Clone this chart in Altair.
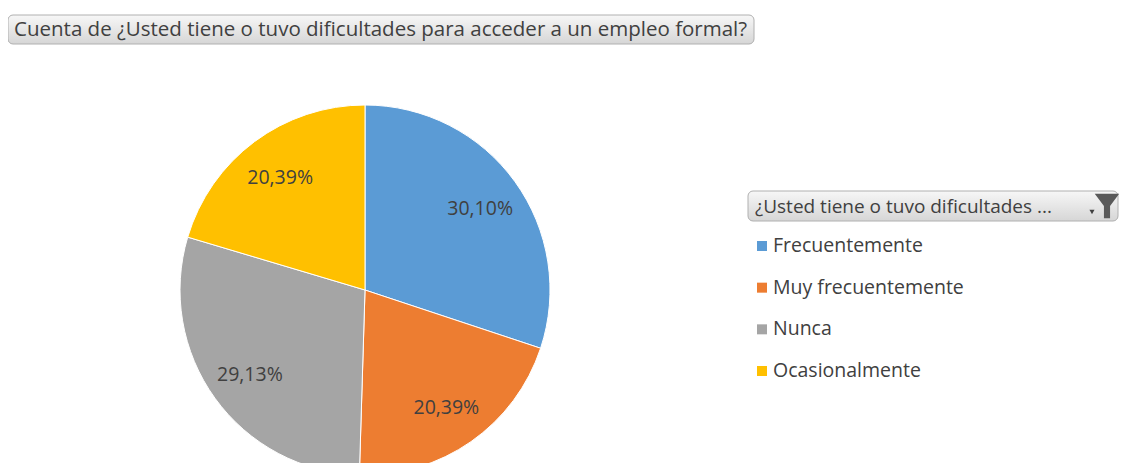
import altair as alt
import pandas as pd

# ---- data ----
categories = ["Frecuentemente", "Muy frecuentemente", "Nunca", "Ocasionalmente"]
percentages = [30.10, 20.39, 29.13, 20.39]
colors = ["#5B9BD5", "#ED7D31", "#A5A5A5", "#FFC000"]
title_text = "Cuenta de ¿Usted tiene o tuvo dificultades para acceder a un empleo formal?"
legend_header = "¿Usted tiene o tuvo dificultades ..."

labels = [f"{v:.2f}".replace(".", ",") + "%" for v in percentages]
df = pd.DataFrame({
    "cat": categories,
    "value": percentages,
    "label": labels,
    "idx": list(range(len(categories))),
})
one = pd.DataFrame({"a": [0]})

FONT = "Open Sans"
TXT = "#404040"
CX, CY, R = 357, 282, 185

color_scale = alt.Scale(domain=categories, range=colors)

pie = alt.Chart(df).mark_arc(radius=R, stroke="white", strokeWidth=1).encode(
    theta=alt.Theta("value:Q", stack=True),
    color=alt.Color("cat:N", scale=color_scale, legend=None),
    order=alt.Order("idx:Q"),
    x=alt.value(CX), y=alt.value(CY),
)

pie_text = alt.Chart(df).mark_text(radius=142, font=FONT, fontSize=19.5, color=TXT).encode(
    theta=alt.Theta("value:Q", stack=True),
    text="label:N",
    order=alt.Order("idx:Q"),
    x=alt.value(CX), y=alt.value(CY + 2),
)

grad = alt.Gradient(
    gradient="linear",
    stops=[alt.GradientStop(color="#f7f7f7", offset=0),
           alt.GradientStop(color="#d6d6d6", offset=1)],
    x1=0, x2=0, y1=0, y2=1,
)

title_box = alt.Chart(one).mark_rect(fill=grad, stroke="#b0b0b0", strokeWidth=1, cornerRadius=5).encode(
    x=alt.value(0), x2=alt.value(746), y=alt.value(7), y2=alt.value(36)
)
title = alt.Chart(one).mark_text(text=title_text, font=FONT, fontSize=20.5, color=TXT,
                                 align="left", baseline="middle").encode(
    x=alt.value(6), y=alt.value(22)
)

header_box = alt.Chart(one).mark_rect(fill=grad, stroke="#b0b0b0", strokeWidth=1, cornerRadius=5).encode(
    x=alt.value(740), x2=alt.value(1110), y=alt.value(183), y2=alt.value(213)
)
header = alt.Chart(one).mark_text(text=legend_header, font=FONT, fontSize=19, color=TXT,
                                  align="left", baseline="middle").encode(
    x=alt.value(747), y=alt.value(199)
)
arrow = alt.Chart(one).mark_point(shape="triangle-down", filled=True, size=26, color="#404040", opacity=1).encode(
    x=alt.value(1084), y=alt.value(204)
)
funnel = alt.Chart(one).mark_point(
    shape="M-1,-1 L1,-1 L0.25,0 L0.25,1 L-0.25,1 L-0.25,0 Z",
    filled=True, size=600, color="#5a5a5a", opacity=1,
).encode(x=alt.value(1099), y=alt.value(198))

yscale = alt.Scale(type="point", domain=categories, range=[238, 363], padding=0)
leg_sym = alt.Chart(df).mark_square(size=100, opacity=1).encode(
    y=alt.Y("cat:N", scale=yscale, axis=None),
    x=alt.value(754),
    color=alt.Color("cat:N", scale=color_scale, legend=None),
)
leg_txt = alt.Chart(df).mark_text(font=FONT, fontSize=19.5, color=TXT, align="left", baseline="middle").encode(
    y=alt.Y("cat:N", scale=yscale, axis=None),
    x=alt.value(765),
    text="cat:N",
)

chart = alt.layer(
    pie, pie_text, title_box, title, header_box, header, arrow, funnel, leg_sym, leg_txt
).properties(
    width=1111, height=455, padding=0, autosize="none", background="white"
).configure_view(strokeWidth=0)

chart.save("out.html", embed_options={"renderer": "svg", "actions": False})
